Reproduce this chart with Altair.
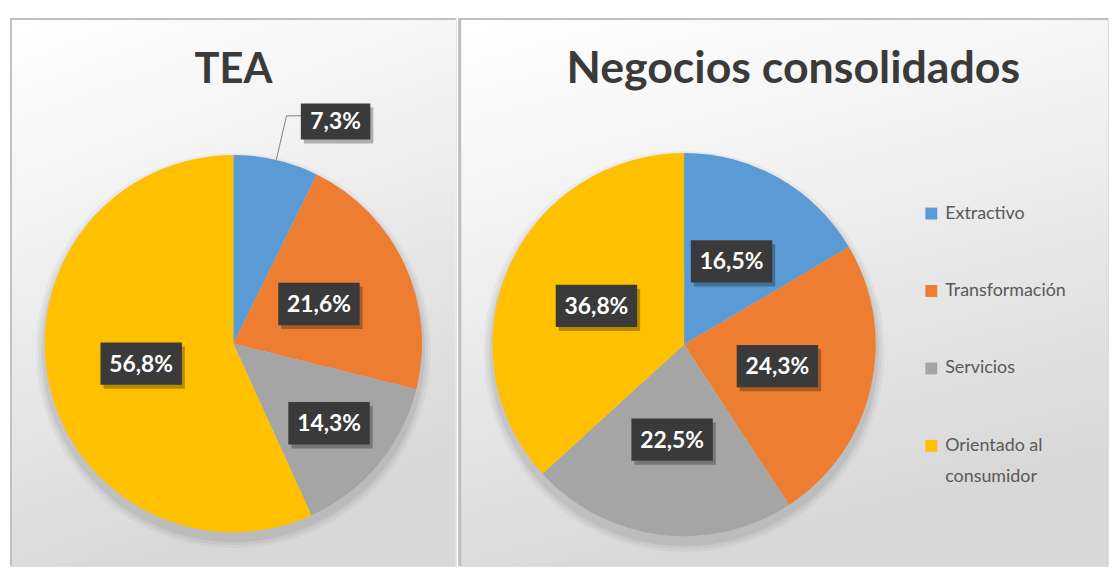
import altair as alt
import pandas as pd

# ---- data ----
categories = ["Extractivo", "Transformación", "Servicios", "Orientado al consumidor"]
tea_values = [7.3, 21.6, 14.3, 56.8]
consolidated_values = [16.5, 24.3, 22.5, 36.8]
panel_titles = ["TEA", "Negocios consolidados"]
colors = ["#5B9BD5", "#ED7D31", "#A5A5A5", "#FFC000"]

FONT = "Lato"
H = 552
BOX_SHAPE = "M-1,-0.52L1,-0.52L1,0.52L-1,0.52Z"

legend = alt.Legend(
    title=None, orient="none", legendX=919, legendY=188,
    symbolType="square", symbolSize=144, symbolStrokeWidth=0, symbolOpacity=1,
    labelFont=FONT, labelFontSize=18, labelColor="#595959", labelLimit=300,
    rowPadding=60, labelOffset=5, padding=0,
    labelExpr="datum.label == 'Orientado al consumidor' ? ['Orientado al', 'consumidor'] : datum.label",
)


def panel(values, title, W, cx, cy, R, title_x, title_size, left_border):
    df = pd.DataFrame({"cat": categories, "idx": list(range(len(categories))), "pct": values})
    base = alt.Chart(df)
    one = pd.DataFrame({"t": [title]})

    color = alt.Color("cat:N", scale=alt.Scale(domain=categories, range=colors), legend=legend)

    bg = alt.Chart(one).mark_rect(
        color=alt.Gradient(
            gradient="linear",
            stops=[alt.GradientStop(color="#ffffff", offset=0),
                   alt.GradientStop(color="#f3f3f3", offset=0.35),
                   alt.GradientStop(color="#d8d8d8", offset=1)],
            x1=0, y1=0, x2=0.3, y2=1,
        )
    ).encode(x=alt.value(0), x2=alt.value(W), y=alt.value(0), y2=alt.value(H))

    layers = [bg]
    # soft pie shadow
    for extra, op in [(9, 0.035), (6, 0.045), (3, 0.06)]:
        layers.append(
            alt.Chart(one).mark_arc(radius=R + extra, theta=0, theta2=6.2832, color="#000000", opacity=op)
            .encode(x=alt.value(cx), y=alt.value(cy + 7))
        )

    pie = base.mark_arc(radius=R).encode(
        theta=alt.Theta("pct:Q", stack=True),
        color=color,
        order=alt.Order("idx:Q"),
        x=alt.value(cx), y=alt.value(cy),
    )
    layers.append(pie)

    xs = alt.Scale(domain=[-cx / R, (W - cx) / R], nice=False, zero=False)
    ys = alt.Scale(domain=[-(H - cy) / R, cy / R], nice=False, zero=False)

    lab = base.transform_joinaggregate(total="sum(pct)").transform_window(
        cum="sum(pct)", sort=[alt.SortField("idx")], frame=[None, 0]
    ).transform_calculate(
        ang="2*PI*(datum.cum - datum.pct/2)/datum.total",
        outside="datum.pct < 10",
        k="datum.pct < 10 ? 1.24 : (datum.pct < 15 ? 0.66 : 0.5)",
        ex="sin(datum.ang)",
        ey="cos(datum.ang)",
        kx="datum.k*sin(datum.ang)",
        ky="datum.k*cos(datum.ang)",
        lx="datum.kx + (datum.outside ? 0.26 : 0)",
        ly="datum.ky - (datum.outside ? 0.03 : 0)",
        sx=f"datum.lx + {3 / R}",
        sy=f"datum.ly - {4 / R}",
        label="replace(format(datum.pct, '.1f'), '.', ',') + '%'",
        bsize="pow(12*length(datum.label) + 22, 2)",
    )

    leader = lab.transform_filter("datum.outside")
    layers.append(
        leader.mark_rule(color="#808080", strokeWidth=1).encode(
            x=alt.X("ex:Q", scale=xs, axis=None), y=alt.Y("ey:Q", scale=ys, axis=None),
            x2="kx:Q", y2="ky:Q",
        )
    )
    layers.append(
        leader.mark_rule(color="#808080", strokeWidth=1).encode(
            x=alt.X("kx:Q", scale=xs, axis=None), y=alt.Y("ky:Q", scale=ys, axis=None),
            x2="lx:Q",
        )
    )
    layers.append(
        lab.mark_point(shape=BOX_SHAPE, filled=True, color="#000000", opacity=0.28).encode(
            x=alt.X("sx:Q", scale=xs, axis=None), y=alt.Y("sy:Q", scale=ys, axis=None),
            size=alt.Size("bsize:Q", scale=None),
        )
    )
    layers.append(
        lab.mark_point(shape=BOX_SHAPE, filled=True, color="#3a3a3a", opacity=1).encode(
            x=alt.X("lx:Q", scale=xs, axis=None), y=alt.Y("ly:Q", scale=ys, axis=None),
            size=alt.Size("bsize:Q", scale=None),
        )
    )
    layers.append(
        lab.mark_text(font=FONT, fontSize=23, fontWeight="bold", color="#ffffff",
                      align="center", baseline="middle", dy=1).encode(
            x=alt.X("lx:Q", scale=xs, axis=None), y=alt.Y("ly:Q", scale=ys, axis=None),
            text="label:N",
        )
    )
    layers.append(
        alt.Chart(one).mark_text(font=FONT, fontSize=title_size, fontWeight="bold", color="#3a3a3a",
                                 align="center", baseline="alphabetic").encode(
            x=alt.value(title_x), y=alt.value(66), text="t:N"
        )
    )
    # borders
    layers.append(
        alt.Chart(one).mark_rule(color="#c0c0c0", strokeWidth=2).encode(
            x=alt.value(0), x2=alt.value(W), y=alt.value(1)
        )
    )
    if left_border:
        layers.append(
            alt.Chart(one).mark_rule(color="#c0c0c0", strokeWidth=2).encode(
                x=alt.value(1), y=alt.value(0), y2=alt.value(H)
            )
        )
    else:
        layers.append(
            alt.Chart(one).mark_rule(color="#bdbdbd", strokeWidth=3).encode(
                x=alt.value(0), y=alt.value(0), y2=alt.value(H)
            )
        )

    return alt.layer(*layers).properties(width=W, height=H)


left = panel(tea_values, panel_titles[0], 449, 225, 328, 190, 225, 42, True)
right = panel(consolidated_values, panel_titles[1], 653, 226, 329, 193, 336, 45, False)

chart = alt.hconcat(left, right, spacing=0).properties(
    padding={"top": 6, "left": 0, "right": 0, "bottom": 0}
).configure_view(stroke=None).configure(
    font=FONT, style={"guide-label": {"lineHeight": 31}}
)

chart.save("out.html", embed_options={"renderer": "svg", "actions": False})
